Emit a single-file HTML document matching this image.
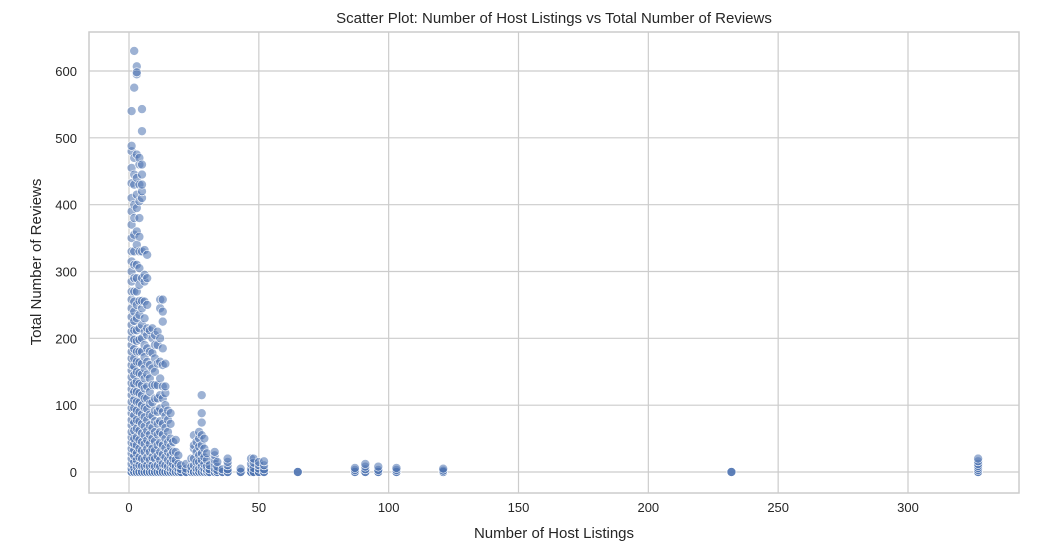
<!DOCTYPE html>
<html><head><meta charset="utf-8"><style>
body{margin:0;background:#fff;}
svg text{font-family:"Liberation Sans",sans-serif;fill:#262626;}
</style></head><body>
<svg id="chart" width="1046" height="551" xmlns="http://www.w3.org/2000/svg">
<rect width="1046" height="551" fill="#fff"/>
<g id="grid"></g><g id="marks"></g><g id="axes"></g>
<text x="554" y="23" text-anchor="middle" font-size="15">Scatter Plot: Number of Host Listings vs Total Number of Reviews</text>
<text x="554" y="538" text-anchor="middle" font-size="15">Number of Host Listings</text>
<text transform="translate(41,262) rotate(-90)" text-anchor="middle" font-size="15">Total Number of Reviews</text>
</svg>
<script>
const xTicks=[0,50,100,150,200,250,300];
const yTicks=[0,100,200,300,400,500,600];
const hostCounts=[1,2,3,4,5,6,7,8,9,10,11,12,13,14,15,16,17,18,19,20,22,24,25,26,27,28,29,30,31,33,34,36,38,43,47,48,50,52,65,87,91,96,103,121,232,327];
const reviewsByHost=[
[0,0,0,5,12,20,28,35,44,52,60,70,78,88,96,105,115,124,133,142,152,160,170,180,190,200,210,220,232,245,258,270,285,300,315,330,350,370,390,410,432,455,480,488,540],
[0,0,0,6,15,24,33,42,50,62,74,85,96,108,120,132,145,158,170,184,198,212,226,240,255,270,290,310,330,355,380,400,430,445,470,575,630],
[0,0,0,8,18,28,40,52,65,78,92,105,120,135,150,165,180,196,212,230,250,270,290,310,340,360,395,415,440,475,595,607,598],
[0,0,0,10,22,35,48,62,76,90,104,118,132,148,164,180,198,215,235,256,280,305,330,352,380,405,430,460,470],
[0,0,0,9,20,32,45,58,72,86,100,115,130,146,162,180,200,220,245,256,290,330,410,420,430,445,460,510,543],
[0,0,0,8,18,30,42,55,68,82,96,110,125,140,155,172,190,210,230,255,285,295,332],
[0,0,0,10,22,35,48,62,78,94,110,128,146,165,185,205,215,250,290,325],
[0,0,0,8,18,30,42,56,70,86,102,120,140,160,180,212],
[0,0,0,10,22,35,50,66,84,104,130,155,178,200,215],
[0,0,0,8,20,32,46,60,76,92,110,130,150,170,190,205],
[0,0,0,10,24,40,56,72,90,110,130,162,190,210],
[0,0,0,8,18,30,44,60,76,95,115,140,165,200,245,258],
[0,0,0,12,26,40,56,72,90,110,128,160,185,225,240,258],
[0,0,0,10,22,36,50,66,84,100,118,128,162],
[0,0,0,8,18,30,44,60,78,92],
[0,0,0,6,14,25,38,50,72,88],
[0,0,0,5,12,20,30,45],
[0,0,0,8,18,30,48],
[0,0,0,5,12,25],
[0,0,0,4,10],
[0,0,0,5,12],
[0,0,0,3,8,20],
[0,0,0,10,20,35,40,55],
[0,0,0,5,15,30,45],
[0,0,0,5,15,25,38,50,60],
[0,0,0,8,18,28,40,55,74,88,115],
[0,0,0,5,12,22,35,50],
[0,0,0,3,8,18,28],
[0,0,0,4,10],
[0,0,0,5,12,18,25,30],
[0,0,0,3,8,15],
[0,0,0,4],
[0,0,0,4,10,15,20],
[0,0,0,5],
[0,0,0,5,12,20],
[0,0,0,6,14,20],
[0,0,0,5,10,15],
[0,0,0,4,10,16],
[0,0,0],
[0,0,0,3,6],
[0,0,0,4,8,12],
[0,0,0,3,8],
[0,0,0,3,6],
[0,0,0,2,5],
[0,0,0],
[0,0,0,3,6,9,12,16,20]
];
const L=89,R=1019,T=32,B=493;
const xs=v=>129+v*(908-129)/300;
const ys=v=>472-v*(472-71)/600;
const NS="http://www.w3.org/2000/svg";
const g=document.getElementById('grid'),m=document.getElementById('marks'),a=document.getElementById('axes');
function mk(tag,attrs,parent){const e=document.createElementNS(NS,tag);for(const k in attrs)e.setAttribute(k,attrs[k]);parent.appendChild(e);return e;}
xTicks.forEach(t=>{
 const l=mk('line',{x1:xs(t),x2:xs(t),y1:T,y2:B,stroke:'#cccccc','stroke-width':1.2},g);
 
 
 const tx=mk('text',{x:xs(t),y:B+19,'text-anchor':'middle','font-size':13},a);tx.textContent=t;
 
 
});
yTicks.forEach(t=>{
 const l=mk('line',{x1:L,x2:R,y1:ys(t),y2:ys(t),stroke:'#cccccc','stroke-width':1.2},g);
 
 
 const tx=mk('text',{x:L-12,y:ys(t)+5,'text-anchor':'end','font-size':13},a);tx.textContent=t;
 
 
});
const fr=mk('rect',{x:L,y:T,width:R-L,height:B-T,fill:'none',stroke:'#cccccc','stroke-width':1.5},a);


hostCounts.forEach((h,i)=>{
 reviewsByHost[i].forEach(r=>{
  const c=mk('circle',{cx:xs(h),cy:ys(r),r:4.5,fill:'rgba(76,114,176,0.55)',stroke:'#fff','stroke-width':0.6},m);
  
  
 });
});
</script>
</body></html>
